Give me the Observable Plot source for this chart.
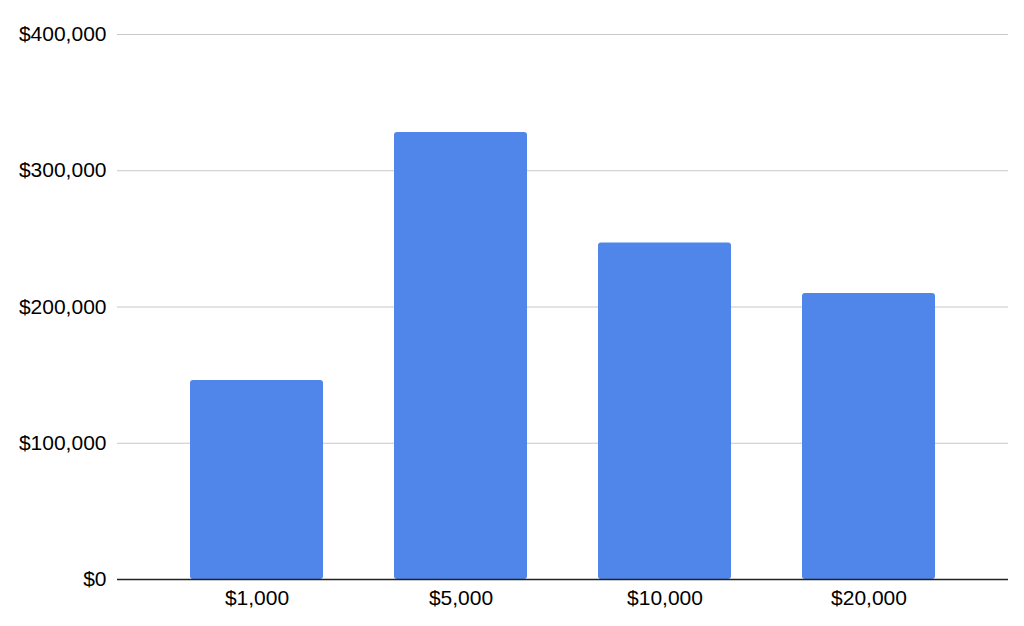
<!DOCTYPE html>
<html>
<head>
<meta charset="utf-8">
<script src="https://cdn.jsdelivr.net/npm/d3@7"></script>
<script src="https://cdn.jsdelivr.net/npm/@observablehq/plot@0.6"></script>
<style>
  html, body { margin: 0; padding: 0; background: #fff; }
  #chart svg { display: block; }
</style>
</head>
<body>
<div id="chart"></div>
<script>
const categories = ["$1,000", "$5,000", "$10,000", "$20,000"];
const values = [146000, 328000, 247000, 210000];
const yTicks = [0, 100000, 200000, 300000, 400000];

const data = categories.map((c, i) => ({category: c, value: values[i]}));
const fmt = d => "$" + d3.format(",")(d);

const chart = Plot.plot({
  width: 1024,
  height: 626,
  marginLeft: 117,
  marginRight: 16,
  marginTop: 34,
  marginBottom: 47,
  style: {fontFamily: "'Liberation Sans', Arial, sans-serif", fontSize: "21px", color: "#000", background: "#fff"},
  x: {domain: categories, padding: 0.35, label: null},
  y: {domain: [0, 400000], ticks: yTicks, label: null},
  marks: [
    Plot.ruleY(yTicks.filter(d => d > 0), {stroke: "#c8c8c8", strokeWidth: 1.2, strokeOpacity: 1}),
    Plot.barY(data, {x: "category", y: "value", fill: "#5086ea", rx: 3}),
    Plot.ruleY([0], {stroke: "#222", strokeWidth: 1.5}),
    Plot.axisY({ticks: yTicks, tickSize: 0, tickPadding: 11, tickFormat: fmt, label: null, fontSize: 21}),
    Plot.axisX({tickSize: 0, tickPadding: 11, label: null, fontSize: 21})
  ]
});
document.getElementById("chart").appendChild(chart);
</script>
</body>
</html>
